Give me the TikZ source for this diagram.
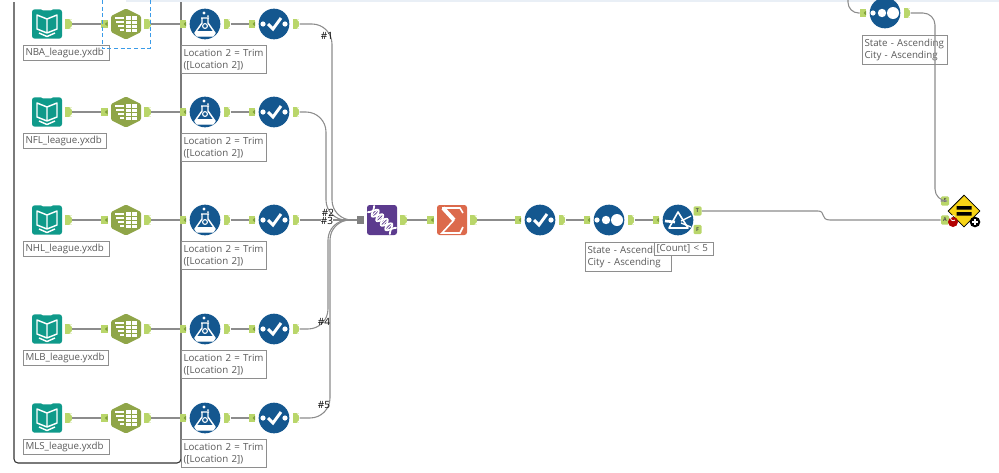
\documentclass[tikz,border=0pt]{standalone}
\usepackage{fontspec}
\setmainfont{Open Sans}
\usetikzlibrary{arrows.meta,positioning,calc,shapes.geometric}
\definecolor{portgreen}{HTML}{B9D66A}
\definecolor{portdark}{HTML}{7F9F3A}
\definecolor{wiregray}{HTML}{8C8C8C}
\definecolor{labelgray}{HTML}{5A5A5A}
\definecolor{boxgray}{HTML}{8E8E8E}
\definecolor{framedark}{HTML}{333333}
\definecolor{toolteal}{HTML}{0F9A8A}
\definecolor{toololive}{HTML}{8FA548}
\definecolor{toolblue}{HTML}{14578F}
\definecolor{toolpurple}{HTML}{5C3B8E}
\definecolor{toolorange}{HTML}{DC6A4C}
\definecolor{toolyellow}{HTML}{F8D416}
\definecolor{selectblue}{HTML}{3A9BE8}
\definecolor{topband}{HTML}{E9EFF6}
\begin{document}
\begin{tikzpicture}[x=0.75pt,y=-0.75pt,>=Latex,node distance=2.2pt,
 every node/.style={align=center,inner sep=0pt},
 wire/.style={draw=wiregray,line width=0.8pt},
 busline/.style={wire,rounded corners=15pt},
 inport/.style={rectangle,fill=portgreen,minimum width=4.8pt,minimum height=6.6pt,
  path picture={\fill[portdark] ($(path picture bounding box.east)+(-2pt,0)$)--++(2pt,1.8pt)--++(0,-3.6pt)--cycle;}},
 outport/.style={rectangle,fill=portgreen,minimum width=5pt,minimum height=7pt,
  path picture={\fill[white] (path picture bounding box.north east)--++(-2pt,0)--++(2pt,-2pt)--cycle
   (path picture bounding box.south east)--++(-2pt,0)--++(2pt,2pt)--cycle;}},
 tagport/.style={rectangle,fill=portgreen,rounded corners=1pt,minimum width=6pt,minimum height=7pt,
  font=\fontsize{4}{4}\selectfont\bfseries,text=black!70},
 bluetool/.style={circle,fill=toolblue,minimum size=23pt},
 booktool/.style={rectangle,fill=toolteal,rounded corners=2pt,minimum width=22.5pt,minimum height=22pt},
 hextool/.style={rectangle,minimum width=22.5pt,minimum height=22.5pt},
 squaretool/.style={rectangle,rounded corners=2pt,minimum size=22.5pt},
 lblbox/.style={draw=boxgray,line width=0.8pt,fill=white,anchor=north west,inner xsep=1.5pt,inner ysep=1.8pt,
  align=left,text=labelgray,font=\fontsize{7.3}{9.3}\selectfont},
 twoline/.style={lblbox,inner ysep=2.6pt},
 hashtag/.style={font=\fontsize{7.5}{8}\selectfont,text=black},
 pics/bookglyph/.style={code={
  \fill[white] (-6,-15)--(6,-15)--(4,-13.6)--(-4,-13.6)--cycle;
  \draw[white,line width=1.1pt,line join=round] (0,-5)--(-10,-9)--(-10,5)--(0,9)--(10,5)--(10,-9)--cycle (0,-5)--(0,9);
  \draw[white,line width=1.1pt,line join=round] (-8,9)--(0,12.5)--(8,9);}},
 pics/hexglyph/.style={code={
  \fill[toololive,rounded corners=1pt] (0,-15.5)--(15,-8)--(15,8)--(0,15.5)--(-15,8)--(-15,-8)--cycle;
  \draw[white,line width=1.2pt] (-11,-6)--(-2,-6) (-10,-2)--(-2,-2) (-8,2)--(-2,2) (-6,6)--(-2,6);
  \fill[white] (0,-8) rectangle (11,8);
  \draw[toololive,line width=0.6pt] (5.5,-8)--(5.5,8) (0,-4)--(11,-4) (0,0)--(11,0) (0,4)--(11,4);}},
 pics/flaskglyph/.style={code={
  \fill[white] (-1,-11) circle[radius=1.6] (3,-8) circle[radius=1];
  \draw[white,line width=1.1pt,line join=round] (-4,-6)--(4,-6) (-3,-6)--(-3,-1)--(-10,9)--(-8,12)--(8,12)--(10,9)--(3,-1)--(3,-6);
  \fill[white] (-8,7)--(8,7)--(10,9)--(8,12)--(-8,12)--(-10,9)--cycle;
  \draw[white,line width=0.8pt] (0,2) circle[radius=2.4];}},
 pics/checkglyph/.style={code={
  \fill[white] (-11,0) circle[radius=2.6] (11,0) circle[radius=2.6];
  \draw[white,line width=2.2pt] (-6,0)--(-1,5)--(7,-6);}},
 pics/sortglyph/.style={code={
  \fill[white] (-12,0) circle[radius=2.6] (-3,0) circle[radius=4.2] (8,0) circle[radius=6];}},
 pics/filterglyph/.style={code={
  \draw[white,line width=1.2pt,line join=round] (0,-8)--(-9,8)--(10,8)--cycle;
  \draw[white,line width=2pt] (-13,1)--(-3,2);
  \draw[white,line width=1pt] (3,1)--(13,-4) (3,3)--(13,7);}},
 pics/helixglyph/.style={code={
  \begin{scope}[rotate=-45]
  \draw[white,line width=1.3pt,domain=-16:16,samples=40,smooth] plot ({\x},{4.5*sin(\x*28)});
  \draw[white,line width=1.3pt,domain=-16:16,samples=40,smooth] plot ({\x},{-4.5*sin(\x*28)});
  \foreach \rx in {-10,-8,-4,-2,2,4,8,10}{
   \draw[white,line width=0.7pt] ({\rx},{4.5*sin(\rx*28)})--({\rx},{-4.5*sin(\rx*28)});}
  \end{scope}}},
 pics/sigmaglyph/.style={code={
  \draw[white,line width=1.2pt,line join=miter] (11,-7)--(8,-12)--(-10,-12);
  \draw[white,line width=3pt] (-9,-12)--(2,0);
  \draw[white,line width=1.2pt,line join=miter] (2,0)--(-10,13)--(8,13)--(11,7);}},
 pics/equalsglyph/.style={code={
  \fill[black] (-7.5,-5) rectangle (7.5,-1.5) (-7.5,1) rectangle (7.5,4.5);}}]
\useasboundingbox (0,0) rectangle (999,472);
\fill[topband] (126,0) rectangle (999,2);
\draw[framedark,line width=0.8pt,rounded corners=3pt] (14,2)--(14,463)--(181,463)--(181,2);

% five input rows
\foreach \lg/\ry/\bw in {NBA/24/86,NFL/112/83,NHL/220/86,MLB/329/85,MLS/418/86}{
 \pgfmathsetmacro{\tw}{\bw*0.75-3}
 \pgfmathsetmacro{\bt}{\ry+21}
 \node[booktool] (book\lg) at (47,\ry) {};
 \pic at (book\lg) {bookglyph};
 \node[outport,right=of book\lg] (booko\lg) {};
 \node[hextool] (hex\lg) at (126,\ry) {};
 \pic at (hex\lg) {hexglyph};
 \node[inport,left=of hex\lg] (hexi\lg) {};
 \node[outport,right=of hex\lg] (hexo\lg) {};
 \node[bluetool] (trim\lg) at (205,\ry) {};
 \pic at (trim\lg) {flaskglyph};
 \node[inport,left=of trim\lg] (trimi\lg) {};
 \node[outport,right=of trim\lg] (trimo\lg) {};
 \node[bluetool] (sel\lg) at (274,\ry) {};
 \pic at (sel\lg) {checkglyph};
 \node[inport,left=of sel\lg] (seli\lg) {};
 \node[outport,right=of sel\lg] (selo\lg) {};
 \draw[wire] (booko\lg)--(hexi\lg);
 \draw[wire] (hexo\lg)--(trimi\lg);
 \draw[wire] (trimo\lg)--(seli\lg);
 \node[lblbox,text width=\tw pt] (lblbook\lg) at (23,\bt) {\lg\_league.yxdb};
 \node[twoline,text width=61pt] (lbltrim\lg) at (181,\bt) {Location 2 = Trim\\([Location 2])};
}
\draw[selectblue,line width=0.7pt,densely dashed] (102,0)--(102,48)--(150,48)--(150,0);

% main chain
\node[squaretool,fill=toolpurple] (union) at (382,220) {};
\pic at (union) {helixglyph};
\node[rectangle,fill=gray,minimum width=4.8pt,minimum height=6.6pt,left=of union] (unioni) {};
\node[outport,right=of union] (uniono) {};
\node[squaretool,fill=toolorange] (summ) at (452,220) {};
\pic at (summ) {sigmaglyph};
\node[inport,left=of summ] (summi) {};
\node[outport,right=of summ] (summo) {};
\node[bluetool] (selmain) at (540,220) {};
\pic at (selmain) {checkglyph};
\node[inport,left=of selmain] (selmaini) {};
\node[outport,right=of selmain] (selmaino) {};
\node[bluetool] (sortmain) at (609,220) {};
\pic at (sortmain) {sortglyph};
\node[inport,left=of sortmain] (sortmaini) {};
\node[outport,right=of sortmain] (sortmaino) {};
\node[bluetool] (flt) at (678,220) {};
\pic at (flt) {filterglyph};
\node[inport,left=of flt] (flti) {};
\node[tagport] (fltt) at (697.5,211) {T};
\node[tagport] (fltf) at (697.5,229.5) {F};
\node[twoline,text width=61.5pt] (lblsort) at (585,242) {State - Ascending\\City - Ascending};
\node[lblbox,text width=41pt] (lblflt) at (654,242) {[Count] < 5};

% top sort and the final tool
\node[bluetool] (sorttop) at (885,13) {};
\pic at (sorttop) {sortglyph};
\node[inport,left=of sorttop] (sorttopi) {};
\node[outport,right=of sorttop] (sorttopo) {};
\node[twoline,text width=61pt] (lbltop) at (862,35) {State - Ascending\\City - Ascending};
\coordinate (topfeed) at (848,0);
\coordinate (busJ) at (935,100);
\coordinate (kinkA) at (818,211);
\coordinate (kinkB) at (830,220);
\node[tagport] (joine) at (945,201) {E};
\node[tagport] (joina) at (945,220) {A};
\node[diamond,draw=black,line width=0.6pt,fill=toolyellow,minimum size=24pt] (join) at (964,211) {};
\pic at (join) {equalsglyph};
\node[circle,fill=red!70!black,minimum size=7.5pt] (joinerr) at (953,222) {};
\draw[white,line width=0.6pt] (955,220) arc[start angle=45,end angle=315,radius=2.6];
\node[circle,fill=black,minimum size=8pt] (joinadd) at (975,222) {};
\draw[white,line width=0.8pt] (972,222)--(978,222) (975,219)--(975,225);

% connectors
\draw[busline] (seloNBA)-|(332,120)|-(unioni);
\draw[busline] (seloNFL)-|(326,160)|-(unioni);
\draw[wire] (seloNHL)--(unioni);
\draw[busline] (seloMLB)-|(328,280)|-(unioni);
\draw[busline] (seloMLS)-|(330,300)|-(unioni);
\draw[wire] (uniono)--(summi);
\draw[wire] (summo)--(selmaini);
\draw[wire] (selmaino)--(sortmaini);
\draw[wire] (sortmaino)--(flti);
\draw[wire] (fltt) -- (kinkA) .. controls (826,211) and (820,220) .. (kinkB) -- (joina);
\draw[wire,rounded corners=8pt] (topfeed)|-(sorttopi);
\draw[wire,rounded corners=9pt] (sorttopo)-|(busJ)|-(joine);

\node[hashtag] (tag1) at (327,36) {\#1};
\node[hashtag] (tag2) at (328,212.5) {\#2};
\node[hashtag,fill=white] (tag3) at (327,221) {\#3};
\node[hashtag] (tag4) at (324,322) {\#4};
\node[hashtag] (tag5) at (324,405) {\#5};
\end{tikzpicture}
\end{document}
